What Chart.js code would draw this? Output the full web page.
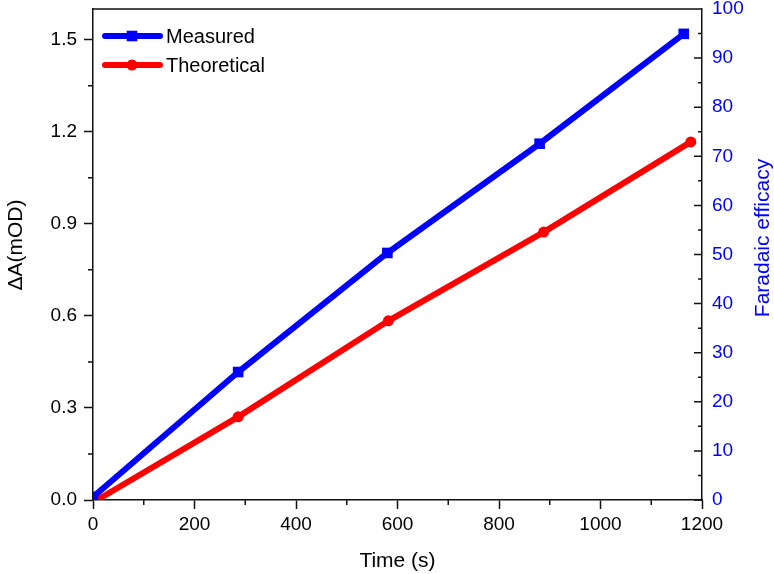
<!DOCTYPE html>
<html>
<head>
<meta charset="utf-8">
<script src="https://cdn.jsdelivr.net/npm/chart.js"></script>
<style>
  body { margin:0; background:#fff; }
  #box { width:774px; height:574px; }
</style>
</head>
<body>
<div id="box"><canvas id="chart"></canvas></div>
<script>
// data
var measured_time = [0, 286, 580, 880, 1164];
var measured_values = [0.01, 0.417, 0.805, 1.161, 1.519];
var theoretical_time = [8, 286, 582, 888, 1178];
var theoretical_values = [0.0, 0.271, 0.584, 0.873, 1.167];

// tick labels
var x_ticks = [0, 200, 400, 600, 800, 1000, 1200];
var left_ticks = [0.0, 0.3, 0.6, 0.9, 1.2, 1.5];
var right_ticks = [0, 10, 20, 30, 40, 50, 60, 70, 80, 90, 100];

var font_family = "'Liberation Sans', Arial, sans-serif";
var axis_color = "#111";

function toPoints(xs, ys) {
    var out = [];
    for (var i = 0; i < xs.length; i++) out.push({ x: xs[i], y: ys[i] });
    return out;
}

function setTicks(values) {
    return function (scale) {
        scale.ticks = values.map(function (v) { return { value: v }; });
    };
}

// fixed box sizes, no extra room for overhanging labels
function fixSize(w, h) {
    return function (s) {
        if (w) s.width = w;
        if (h) s.height = h;
        s.paddingTop = 0; s.paddingBottom = 0;
        s.paddingLeft = 0; s.paddingRight = 0;
    };
}

// minor ticks, top frame line, legend and side titles
var extras = {
    id: "extras",
    afterDraw: function (chart) {
        var ctx = chart.ctx;
        var area = chart.chartArea;
        var sx = chart.scales.x, sy = chart.scales.y, sr = chart.scales.y2;
        ctx.save();
        ctx.strokeStyle = axis_color;
        ctx.lineWidth = 1.5;
        ctx.beginPath();
        // top frame
        ctx.moveTo(area.left, area.top);
        ctx.lineTo(area.right, area.top);
        // x minor
        for (var i = 0; i < x_ticks.length - 1; i++) {
            var px = sx.getPixelForValue((x_ticks[i] + x_ticks[i + 1]) / 2);
            ctx.moveTo(px, area.bottom);
            ctx.lineTo(px, area.bottom + 5);
        }
        // left minor
        for (var j = 0; j < left_ticks.length; j++) {
            var py = sy.getPixelForValue(left_ticks[j] + 0.15);
            if (py < area.top) continue;
            ctx.moveTo(area.left - 5, py);
            ctx.lineTo(area.left, py);
        }
        // right ticks point inward
        for (var k = 0; k < right_ticks.length; k++) {
            var ry = sr.getPixelForValue(right_ticks[k]);
            ctx.moveTo(area.right - 8, ry);
            ctx.lineTo(area.right, ry);
            if (k < right_ticks.length - 1) {
                var my = sr.getPixelForValue(right_ticks[k] + 5);
                ctx.moveTo(area.right - 4, my);
                ctx.lineTo(area.right, my);
            }
        }
        ctx.stroke();

        // legend
        chart.data.datasets.forEach(function (ds, n) {
            var ly = 36 + n * 29;
            ctx.strokeStyle = ds.borderColor;
            ctx.lineWidth = 6;
            ctx.lineCap = "round";
            ctx.beginPath();
            ctx.moveTo(105, ly);
            ctx.lineTo(160, ly);
            ctx.stroke();
            ctx.fillStyle = ds.borderColor;
            Chart.helpers.drawPoint(ctx, { pointStyle: ds.pointStyle, radius: ds.pointRadius, rotation: 0, borderWidth: 0 }, 132, ly);
            ctx.fillStyle = "#000";
            ctx.font = "20px " + font_family;
            ctx.textAlign = "left";
            ctx.textBaseline = "middle";
            ctx.fillText(ds.label, 166, ly + 1);
        });

        // side titles
        ctx.textAlign = "center";
        ctx.textBaseline = "middle";
        ctx.font = "21px " + font_family;
        ctx.save();
        ctx.translate(16, 245);
        ctx.rotate(-Math.PI / 2);
        ctx.fillStyle = "#000";
        ctx.fillText("\u0394A(mOD)", 0, 0);
        ctx.restore();
        ctx.save();
        ctx.translate(763, 238);
        ctx.rotate(-Math.PI / 2);
        ctx.fillStyle = "#0000ff";
        ctx.fillText("Faradaic efficacy", 0, 0);
        ctx.restore();
        ctx.restore();
    }
};

new Chart(document.getElementById("chart"), {
    type: "line",
    data: {
        datasets: [{
            label: "Measured",
            data: toPoints(measured_time, measured_values),
            borderColor: "#0000ff",
            backgroundColor: "#0000ff",
            borderWidth: 6,
            pointStyle: "rect",
            pointRadius: 7.5,
            pointBorderWidth: 0,
            pointBackgroundColor: "#0000ff",
            yAxisID: "y"
        }, {
            label: "Theoretical",
            data: toPoints(theoretical_time, theoretical_values),
            borderColor: "#ff0000",
            backgroundColor: "#ff0000",
            borderWidth: 6,
            pointStyle: "circle",
            pointRadius: 5.5,
            pointBorderWidth: 0,
            pointBackgroundColor: "#ff0000",
            yAxisID: "y"
        }]
    },
    options: {
        responsive: true,
        maintainAspectRatio: false,
        animation: false,
        layout: { padding: { top: 9, left: 0, right: 0, bottom: 0 } },
        plugins: { legend: { display: false }, tooltip: { enabled: false } },
        scales: {
            x: {
                type: "linear",
                min: 0, max: 1200,
                afterBuildTicks: setTicks(x_ticks),
                afterFit: fixSize(0, 74),
                border: { display: true, color: axis_color, width: 1.5 },
                grid: { drawOnChartArea: false, tickLength: 9, tickColor: axis_color, tickWidth: 1.5 },
                ticks: {
                    color: "#000", padding: 4, maxRotation: 0, autoSkip: false, font: { family: font_family, size: 19 },
                    callback: function (v) { return String(v); }
                },
                title: { display: true, text: "Time (s)", color: "#000", padding: 0, font: { family: font_family, size: 21 } }
            },
            y: {
                position: "left",
                min: 0, max: 1.6,
                afterBuildTicks: setTicks(left_ticks),
                afterFit: fixSize(93, 0),
                border: { display: true, color: axis_color, width: 1.5 },
                grid: { drawOnChartArea: false, tickLength: 9, tickColor: axis_color, tickWidth: 1.5 },
                ticks: {
                    color: "#000", padding: 7, font: { family: font_family, size: 19 },
                    callback: function (v) { return Number(v).toFixed(1); }
                }
            },
            y2: {
                position: "right",
                display: true,
                min: 0, max: 100,
                afterBuildTicks: setTicks(right_ticks),
                afterFit: fixSize(72, 0),
                border: { display: true, color: axis_color, width: 1.5 },
                grid: { drawOnChartArea: false, drawTicks: false },
                ticks: { color: "#0000ff", padding: 10, font: { family: font_family, size: 19 } }
            }
        }
    },
    plugins: [extras]
});
</script>
</body>
</html>
